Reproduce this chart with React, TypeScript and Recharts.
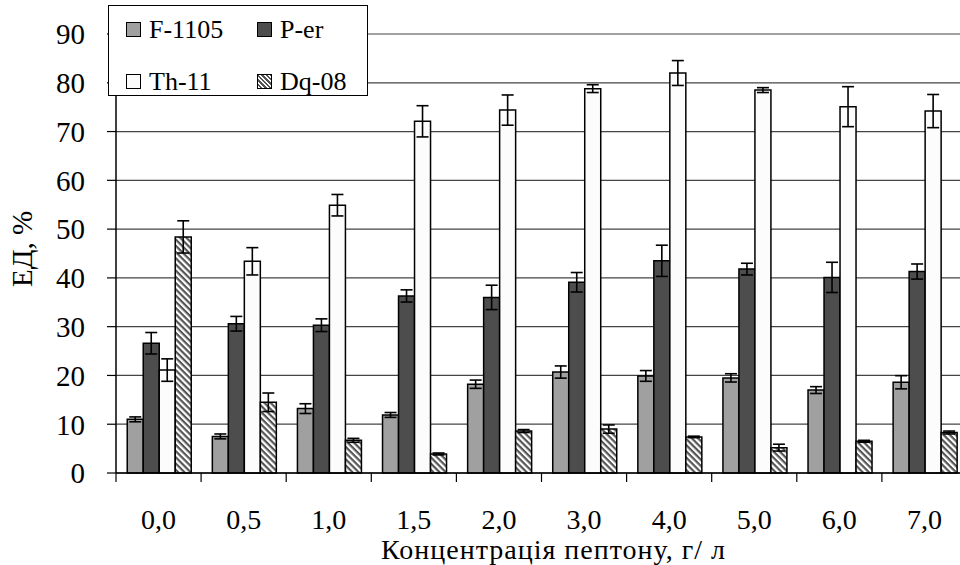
import React from "react";
import {
  BarChart,
  Bar,
  XAxis,
  YAxis,
  CartesianGrid,
  ErrorBar,
} from "recharts";

const categories = ["0,0", "0,5", "1,0", "1,5", "2,0", "3,0", "4,0", "5,0", "6,0", "7,0"];

const f1105 = [11.0, 7.5, 13.2, 11.9, 18.2, 20.7, 19.9, 19.5, 17.0, 18.6];
const f1105Err = [0.5, 0.5, 1.0, 0.5, 0.85, 1.25, 1.1, 0.85, 0.7, 1.35];
const per = [26.6, 30.6, 30.3, 36.3, 36.0, 39.1, 43.5, 41.8, 40.1, 41.3];
const perErr = [2.2, 1.5, 1.3, 1.25, 2.5, 2.0, 3.2, 1.2, 3.1, 1.55];
const th11 = [21.1, 43.4, 54.9, 72.1, 74.4, 78.8, 82.0, 78.5, 75.1, 74.2];
const th11Err = [2.3, 2.8, 2.2, 3.2, 3.1, 0.8, 2.55, 0.5, 4.1, 3.4];
const dq08 = [48.4, 14.5, 6.7, 3.9, 8.6, 9.0, 7.4, 5.2, 6.5, 8.3];
const dq08Err = [3.3, 1.9, 0.4, 0.2, 0.3, 0.85, 0.15, 0.7, 0.2, 0.3];

const yTicks = [0, 10, 20, 30, 40, 50, 60, 70, 80, 90];

const data = categories.map((c, i) => ({
  name: c,
  f: f1105[i],
  fErr: f1105Err[i],
  p: per[i],
  pErr: perErr[i],
  th: th11[i],
  thErr: th11Err[i],
  dq: dq08[i],
  dqErr: dq08Err[i],
}));

const FONT =
  "'Liberation Serif', Tinos, 'Times New Roman', 'Noto Serif', FreeSerif, 'Nimbus Roman', 'DejaVu Serif', serif";
const PLOT_W = 851;
const BAND = PLOT_W / categories.length;

const XTick = (props: any) => {
  const { x, y, payload } = props;
  return (
    <g>
      <line x1={x - BAND / 2} y1={y} x2={x - BAND / 2} y2={y + 9} stroke="#000" strokeWidth={1.2} />
      <text x={x} y={y + 56} textAnchor="middle" fontSize={28} fill="#000" fontFamily={FONT}>
        {payload.value}
      </text>
    </g>
  );
};

const hatch = "repeating-linear-gradient(45deg, #fff 0px, #fff 1.6px, #555 1.6px, #555 3.2px)";

// legend entries: label, swatch fill, column, row
const legendItems = [
  { label: "F-1105", bg: "#a0a0a0", col: 0, row: 0 },
  { label: "P-er", bg: "#4d4d4d", col: 1, row: 0 },
  { label: "Th-11", bg: "#fcfcfc", col: 0, row: 1 },
  { label: "Dq-08", bg: hatch, col: 1, row: 1 },
];

const LegendBox = () => (
  <div
    style={{
      position: "absolute",
      left: 108,
      top: 5,
      width: 260,
      height: 91,
      border: "1px solid #000",
      background: "#fff",
      boxSizing: "border-box",
      fontFamily: FONT,
      fontSize: 26,
      lineHeight: "27px",
      color: "#000",
    }}
  >
    {legendItems.map((it) => {
      const left = it.col === 0 ? 17 : 148;
      const top = it.row === 0 ? 16 : 68;
      return (
        <React.Fragment key={it.label}>
          <span
            style={{
              position: "absolute",
              left,
              top,
              width: 13,
              height: 13,
              border: "1px solid #000",
              background: it.bg,
            }}
          />
          <span style={{ position: "absolute", left: left + 23, top: top - 6, whiteSpace: "nowrap" }}>
            {it.label}
          </span>
        </React.Fragment>
      );
    })}
  </div>
);

export default function App() {
  return (
    <div
      style={{
        position: "absolute",
        left: 0,
        top: 0,
        width: 960,
        height: 565,
        overflow: "hidden",
        background: "#fff",
        fontFamily: FONT,
      }}
    >
      <BarChart
        width={116 + PLOT_W}
        height={565}
        data={data}
        margin={{ top: 34, right: 0, left: 16, bottom: 12 }}
        barCategoryGap="13.2%"
        barGap={0}
      >
        <defs>
          <pattern id="hatch" patternUnits="userSpaceOnUse" width="4.4" height="4.4" patternTransform="rotate(45)">
            <rect width="4.4" height="4.4" fill="#fff" />
            <rect width="4.4" height="2.2" fill="#555" />
          </pattern>
        </defs>
        <CartesianGrid vertical={false} stroke="#444" strokeWidth={1.2} />
        <XAxis
          dataKey="name"
          height={80}
          axisLine={{ stroke: "#000", strokeWidth: 1.5 }}
          tickLine={false}
          tickSize={0}
          tickMargin={0}
          tick={<XTick />}
          interval={0}
          label={{
            content: (p: any) => {
              const vb = p.viewBox;
              return (
                <text
                  x={vb.x + vb.width / 2 + 12}
                  y={559}
                  textAnchor="middle"
                  fontSize={28}
                  letterSpacing={1}
                  fill="#000"
                  fontFamily={FONT}
                >
                  Концентрація пептону, г/ л
                </text>
              );
            },
          }}
        />
        <YAxis
          width={100}
          domain={[0, 90]}
          ticks={yTicks}
          interval={0}
          axisLine={{ stroke: "#000", strokeWidth: 1.5 }}
          tickLine={{ stroke: "#000", strokeWidth: 1.2 }}
          tickSize={9}
          tickMargin={22}
          tick={{ fontSize: 29, fill: "#000", fontFamily: FONT }}
          label={{
            content: () => (
              <text
                x={0}
                y={0}
                transform="translate(32 249) rotate(-90)"
                textAnchor="middle"
                fontSize={29}
                fill="#000"
                fontFamily={FONT}
              >
                ЕД, %
              </text>
            ),
          }}
        />
        <Bar dataKey="f" name="F-1105" fill="#a0a0a0" stroke="#000" strokeWidth={1.5} isAnimationActive={false}>
          <ErrorBar dataKey="fErr" width={6} stroke="#000" strokeWidth={1.6} />
        </Bar>
        <Bar dataKey="p" name="P-er" fill="#4d4d4d" stroke="#000" strokeWidth={1.5} isAnimationActive={false}>
          <ErrorBar dataKey="pErr" width={6} stroke="#000" strokeWidth={1.6} />
        </Bar>
        <Bar dataKey="th" name="Th-11" fill="#fcfcfc" stroke="#000" strokeWidth={1.5} isAnimationActive={false}>
          <ErrorBar dataKey="thErr" width={6} stroke="#000" strokeWidth={1.6} />
        </Bar>
        <Bar dataKey="dq" name="Dq-08" fill="url(#hatch)" stroke="#000" strokeWidth={1.5} isAnimationActive={false}>
          <ErrorBar dataKey="dqErr" width={6} stroke="#000" strokeWidth={1.6} />
        </Bar>
      </BarChart>
      <LegendBox />
    </div>
  );
}
